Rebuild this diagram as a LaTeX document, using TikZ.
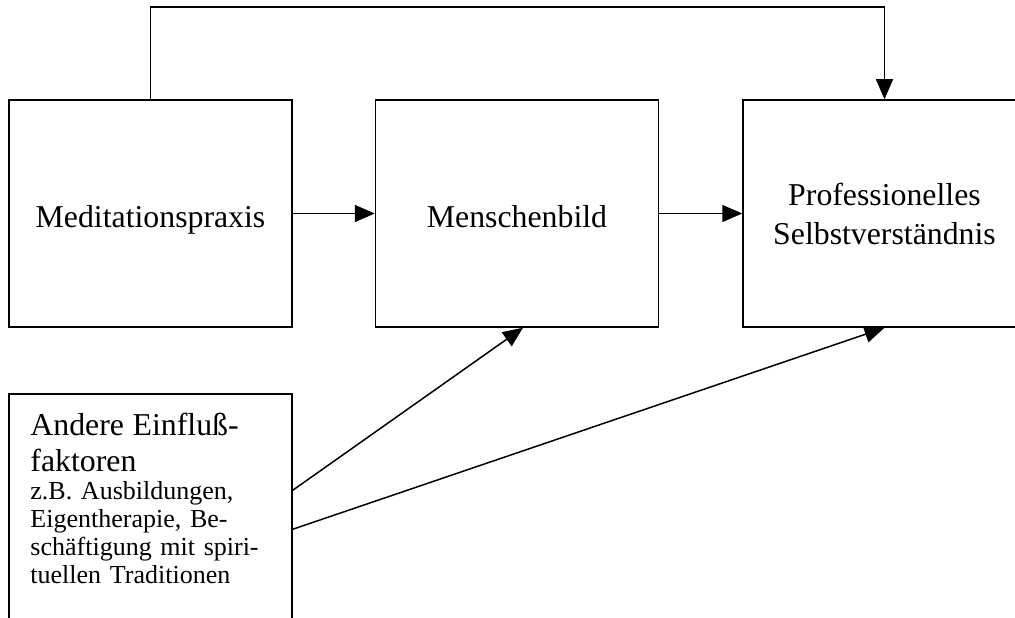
\documentclass[tikz,border=0pt]{standalone}
\usepackage{fontspec}
\setmainfont{Liberation Serif}
\usepackage{tikz}
\usetikzlibrary{positioning, arrows.meta}
\newcommand{\bigtext}{\fontsize{31.8pt}{36pt}\selectfont}
\newcommand{\smalltext}{\fontsize{26pt}{28pt}\selectfont}

\begin{document}
\begin{tikzpicture}[
      x=1pt, y=-1pt,
      box/.style={rectangle, draw=black, line width=1.5pt,
                  minimum width=283pt, minimum height=227pt,
                  font=\fontsize{31.8pt}{39pt}\selectfont, align=center},
      oneline/.style={text height=28pt, text depth=0pt},
      arr/.style={-{Triangle[length=20pt, width=17pt]}, line width=1.5pt}
    ]
    % Page frame
    \path[fill=white, use as bounding box] (0,0) rectangle (1015,618);
    \clip (0,0) rectangle (1015,618);

    % Row 1: the three main boxes
    \node[box, oneline] (medit) at (150.5, 213.5) {Meditationspraxis};
    \node[box, oneline] (mensch) at (517, 213.5) {Menschenbild};
    \node[box] (selbst) at (884.5, 213.5) {Professionelles\\Selbstverst\"andnis};

    % Row 2: other factors (box runs past the bottom edge)
    \node[box, minimum height=250pt] (andere) at (150.5, 519) {};
    \node[anchor=north west, inner sep=0pt, text width=260pt, align=left,
          font=\smalltext]
          (anderetxt) at ([xshift=22pt, yshift=-19.3pt]andere.north west) {%
      {\bigtext Andere Einflu\ss-\\faktoren\par}
      {\smalltext z.B. Ausbildungen,\\Eigentherapie, Be-\\
      sch\"aftigung mit spiri-\\tuellen Traditionen\par}};

    % Arrows
    \draw[arr] (medit) -- (mensch);
    \draw[arr] (mensch) -- (selbst);
    \draw[arr] (medit.north) -- ++(0,-92) -| (selbst.north);
    \draw[arr] ([yshift=-97pt]andere.north east) -- ([xshift=6pt]mensch.south);
    \draw[arr] ([yshift=-136pt]andere.north east) -- (selbst.south);
  \end{tikzpicture}
\end{document}
